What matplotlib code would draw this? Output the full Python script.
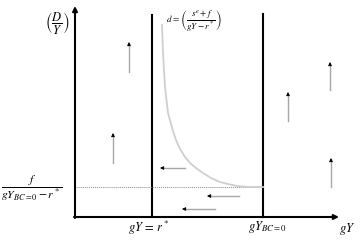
import matplotlib.pyplot as plt

plt.rcParams['mathtext.fontset'] = 'stix'

# schematic coordinates (origin = axis corner)
r_star = 77
gy_bc0 = 188
d_min = 30
y_top = 211
x_end = 264

# curve d = (s^e + f)/(gY - r*)
curve_gy = [87, 88, 90, 93, 98, 101, 105, 110, 115, 121, 128, 136, 145, 153, 162, 174, 188]
curve_d = [192, 164, 130, 104, 86, 77, 68, 60, 54, 49, 44, 39, 35, 33, 31, 30, 30]

# up arrows: (x, y_from, y_to)
up_x = [54, 38, 213, 255, 256]
up_y0 = [145, 54, 96, 127, 30]
up_y1 = [175, 84, 125, 155, 59]

# left arrows: (y, x_from, x_to)
left_y = [49, 21, 8]
left_x0 = [110, 164, 140]
left_x1 = [85, 132, 107]

fig = plt.figure(figsize=(3.64, 2.41), dpi=100)
ax = fig.add_axes([0, 0, 1, 1])
ax.set_xlim(-75, 289)
ax.set_ylim(-24, 217)
ax.axis('off')

# axes
ax.annotate('', xy=(0, y_top), xytext=(0, -1),
            arrowprops=dict(arrowstyle='-|>', color='black', lw=1.5, mutation_scale=7, shrinkA=0, shrinkB=0))
ax.annotate('', xy=(x_end, 0), xytext=(-1, 0),
            arrowprops=dict(arrowstyle='-|>', color='black', lw=1.5, mutation_scale=7, shrinkA=0, shrinkB=0))

ax.plot([r_star, r_star], [0, 202], color='black', lw=1.5)
ax.plot([gy_bc0, gy_bc0], [0, 203], color='black', lw=1.5)
ax.plot([0, gy_bc0], [d_min, d_min], color='#888888', lw=0.7, ls=(0, (1, 1)))

ax.plot(curve_gy, curve_d, color='#cfcfcf', lw=1.3)

head = dict(arrowstyle='-|>', color='black', lw=0.6, mutation_scale=5, shrinkA=0, shrinkB=0)
for x, a, b in zip(up_x, up_y0, up_y1):
    ax.plot([x, x], [a, b - 2], color='#a8a8a8', lw=1.0)
    ax.annotate('', xy=(x, b), xytext=(x, b - 3), arrowprops=head)
for y, a, b in zip(left_y, left_x0, left_x1):
    ax.plot([a, b + 2], [y, y], color='#a8a8a8', lw=1.0)
    ax.annotate('', xy=(b, y), xytext=(b + 3, y), arrowprops=head)

ax.text(-17.5, 193.5, r'$\left(\dfrac{D}{Y}\right)$', fontsize=9, ha='center', va='center')
ax.text(91, 197, r'$d\,=\left(\dfrac{s^e+f}{gY-r^*}\right)$', fontsize=6.5, ha='left', va='center')
ax.text(-43, 29, r'$\dfrac{f}{gY_{BC=0}-r^*}$', fontsize=8.5, ha='center', va='center')
ax.text(74, -10.5, r'$gY\,=\,r^*$', fontsize=9, ha='center', va='center')
ax.text(193, -10, r'$gY_{BC=0}$', fontsize=9, ha='center', va='center')
ax.text(272, -12, r'$gY$', fontsize=9, ha='center', va='center')

fig.savefig('out.png', dpi=100)
